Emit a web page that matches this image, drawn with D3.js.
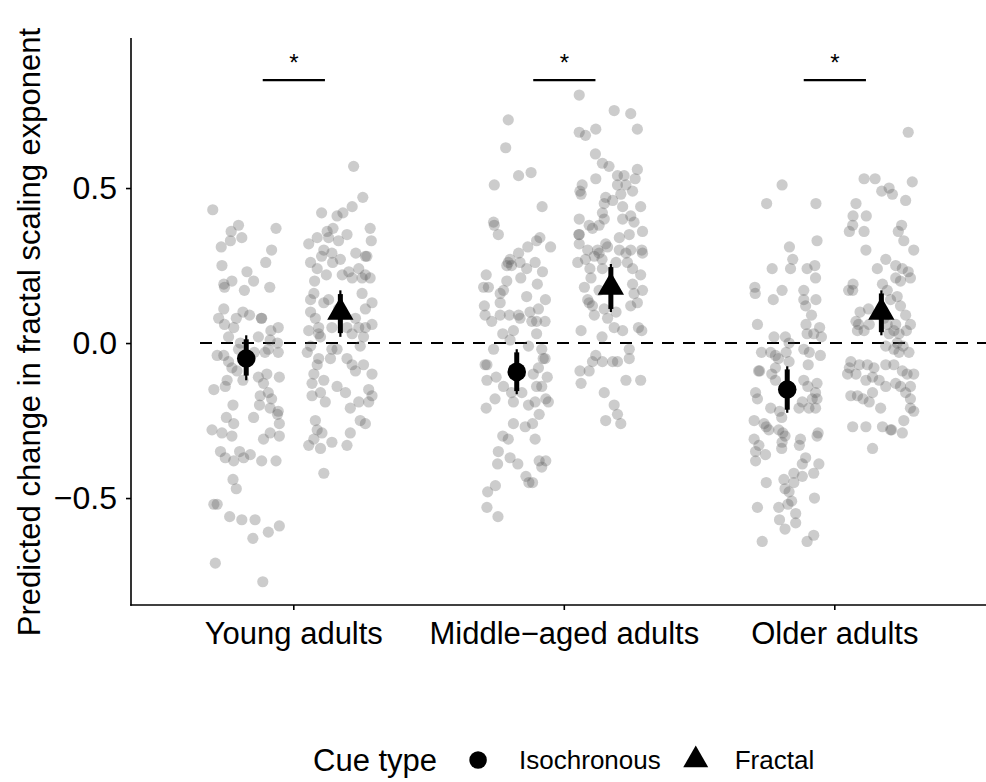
<!DOCTYPE html>
<html>
<head>
<meta charset="utf-8">
<script src="https://cdn.jsdelivr.net/npm/d3@7"></script>
<style>
  body { margin: 0; background: #fff; }
  svg { display: block; font-family: "Liberation Sans", Arial, Helvetica, sans-serif; }
</style>
</head>
<body>
<svg id="chart" width="986" height="782"></svg>
<script>
// Age groups on the x axis and the two cue types
var groups = ["Young adults", "Middle\u2212aged adults", "Older adults"];
var cues = ["Isochronous", "Fractal"];
var yTicks = [-0.5, 0.0, 0.5];

// Individual predictions: [jitter (-1..1), value]
var youngIso = [[-0.91,0.43],[-0.21,0.38],[-0.41,0.36],[0.81,0.37],[-0.12,0.34],[-0.68,0.31],[-0.43,0.33],[0.69,0.30],[0.53,0.26],[-0.66,0.25],[0.02,0.23],[-0.39,0.20],[0.20,0.20],[-0.61,0.19],[-0.05,0.17],[0.64,0.18],[-0.59,0.18],[-0.61,0.11],[-0.75,0.08],[-0.09,0.10],[-0.27,0.08],[0.09,0.09],[0.41,0.08],[0.42,0.08],[-0.59,0.06],[-0.34,0.05],[0.87,0.05],[0.67,0.04],[-0.48,0.02],[-0.16,0.00],[0.33,0.02],[0.65,0.01],[0.85,0.00],[-0.21,-0.02],[0.60,-0.02],[-0.79,-0.04],[-0.61,-0.04],[0.87,-0.03],[0.22,-0.03],[0.51,-0.03],[-0.39,-0.08],[-0.48,-0.06],[-0.25,-0.09],[0.33,-0.11],[0.56,-0.10],[0.90,-0.11],[-0.52,-0.12],[-0.88,-0.15],[-0.57,-0.14],[-0.09,-0.12],[0.47,-0.13],[0.60,-0.16],[0.38,-0.17],[0.69,-0.18],[-0.36,-0.20],[0.36,-0.20],[0.65,-0.21],[0.87,-0.22],[0.85,-0.23],[-0.54,-0.24],[0.20,-0.24],[-0.34,-0.26],[0.90,-0.26],[-0.93,-0.28],[-0.66,-0.29],[-0.39,-0.30],[0.65,-0.29],[0.47,-0.31],[0.90,-0.30],[-0.70,-0.35],[-0.18,-0.35],[-0.57,-0.37],[-0.34,-0.38],[-0.07,-0.37],[0.11,-0.36],[0.42,-0.38],[0.81,-0.38],[-0.36,-0.44],[-0.27,-0.47],[-0.88,-0.52],[-0.79,-0.52],[-0.45,-0.56],[-0.12,-0.57],[0.24,-0.57],[0.90,-0.59],[0.60,-0.61],[0.18,-0.63],[-0.84,-0.71],[0.45,-0.77]];
var youngFrac = [[0.36,0.57],[0.61,0.47],[0.32,0.44],[-0.51,0.42],[-0.09,0.41],[0.07,0.42],[-0.20,0.37],[0.81,0.37],[-0.36,0.36],[-0.63,0.34],[0.18,0.35],[0.84,0.33],[-0.86,0.32],[-0.32,0.34],[-0.05,0.33],[-0.45,0.30],[-0.51,0.28],[-0.23,0.29],[0.42,0.29],[0.68,0.28],[0.72,0.28],[0.00,0.27],[-0.81,0.26],[-0.63,0.24],[-0.21,0.26],[0.50,0.24],[0.23,0.23],[0.05,0.22],[-0.38,0.22],[0.68,0.22],[0.81,0.21],[-0.70,0.20],[0.32,0.21],[0.59,0.21],[-0.72,0.16],[0.59,0.16],[-0.32,0.14],[-0.81,0.14],[0.86,0.13],[-0.45,0.13],[0.68,0.11],[-0.81,0.10],[-0.05,0.11],[0.41,0.08],[-0.68,0.08],[-0.59,0.05],[-0.23,0.05],[0.86,0.06],[-0.86,0.04],[0.18,0.05],[0.50,0.05],[0.68,0.05],[-0.54,0.02],[-0.59,0.03],[0.32,0.03],[0.63,0.02],[-0.81,-0.01],[-0.23,-0.02],[-0.09,-0.02],[0.54,-0.01],[-0.90,-0.03],[-0.59,-0.05],[-0.27,-0.05],[0.18,-0.05],[-0.63,-0.07],[0.32,-0.07],[0.63,-0.07],[0.41,-0.09],[0.86,-0.10],[-0.72,-0.10],[-0.77,-0.13],[-0.45,-0.12],[-0.09,-0.14],[0.14,-0.16],[0.77,-0.15],[0.86,-0.17],[-0.54,-0.16],[-0.77,-0.17],[-0.41,-0.19],[0.50,-0.19],[0.27,-0.21],[0.77,-0.19],[-0.68,-0.25],[0.54,-0.25],[0.68,-0.26],[-0.63,-0.28],[-0.50,-0.29],[0.27,-0.29],[-0.86,-0.33],[-0.72,-0.31],[-0.23,-0.32],[0.18,-0.33],[-0.54,-0.34],[-0.45,-0.42]];
var middleIso = [[-0.23,0.72],[-0.30,0.63],[0.05,0.54],[0.39,0.55],[-0.61,0.51],[0.69,0.44],[-0.63,0.39],[-0.61,0.38],[-0.50,0.35],[0.63,0.34],[0.54,0.33],[0.30,0.31],[0.92,0.31],[0.05,0.29],[-0.18,0.27],[-0.23,0.26],[0.09,0.26],[0.50,0.26],[-0.27,0.25],[-0.14,0.25],[0.27,0.24],[0.11,0.21],[0.70,0.23],[-0.83,0.22],[-0.90,0.18],[-0.77,0.18],[-0.27,0.20],[0.56,0.19],[-0.36,0.17],[-0.45,0.16],[0.27,0.15],[0.78,0.14],[-0.45,0.13],[-0.88,0.12],[-0.86,0.09],[-0.45,0.09],[-0.20,0.09],[0.05,0.09],[0.09,0.08],[0.36,0.10],[0.59,0.11],[0.77,0.07],[-0.68,0.07],[0.41,0.07],[0.54,0.07],[-0.38,0.03],[-0.09,0.04],[0.54,0.03],[-0.18,0.01],[0.32,-0.01],[0.68,-0.02],[-0.63,-0.02],[0.77,-0.05],[-0.81,-0.07],[-0.86,-0.07],[0.72,-0.05],[0.59,-0.08],[-0.56,-0.11],[-0.81,-0.12],[0.45,-0.10],[0.83,-0.11],[-0.36,-0.14],[0.54,-0.14],[0.68,-0.14],[-0.14,-0.16],[0.14,-0.16],[-0.59,-0.18],[0.32,-0.20],[0.50,-0.19],[0.79,-0.18],[0.86,-0.19],[-0.83,-0.21],[-0.09,-0.19],[0.61,-0.23],[-0.09,-0.26],[0.23,-0.27],[0.43,-0.26],[-0.38,-0.30],[-0.23,-0.31],[0.50,-0.31],[-0.50,-0.35],[-0.18,-0.37],[0.03,-0.39],[-0.52,-0.39],[0.61,-0.38],[0.68,-0.40],[0.79,-0.38],[0.25,-0.43],[0.33,-0.45],[0.43,-0.45],[-0.58,-0.46],[-0.79,-0.48],[-0.81,-0.53],[-0.51,-0.56]];
var middleFrac = [[-0.86,0.80],[0.09,0.75],[0.54,0.74],[-0.86,0.68],[-0.69,0.67],[-0.41,0.69],[0.72,0.69],[-0.42,0.61],[-0.23,0.58],[-0.05,0.57],[0.18,0.54],[0.36,0.54],[0.72,0.56],[-0.78,0.51],[-0.41,0.53],[0.66,0.53],[-0.84,0.49],[-0.81,0.48],[0.18,0.51],[0.41,0.51],[0.27,0.48],[0.59,0.49],[-0.14,0.47],[0.05,0.46],[-0.18,0.45],[0.81,0.44],[0.32,0.44],[-0.86,0.40],[-0.59,0.38],[-0.23,0.42],[-0.32,0.38],[-0.18,0.40],[0.54,0.41],[0.63,0.39],[-0.50,0.37],[0.32,0.40],[-0.87,0.35],[-0.86,0.35],[0.50,0.35],[0.86,0.36],[0.23,0.34],[-0.86,0.32],[-0.63,0.30],[-0.36,0.30],[-0.45,0.28],[-0.32,0.29],[-0.14,0.32],[-0.09,0.31],[0.23,0.30],[0.41,0.29],[0.54,0.30],[0.84,0.30],[0.86,0.29],[-0.90,0.26],[-0.69,0.27],[-0.24,0.27],[0.14,0.26],[0.45,0.26],[0.59,0.24],[-0.57,0.24],[-0.23,0.24],[0.81,0.22],[-0.54,0.21],[0.59,0.19],[-0.72,0.18],[0.86,0.17],[-0.32,0.17],[-0.63,0.14],[-0.59,0.13],[-0.50,0.12],[0.63,0.16],[0.72,0.13],[0.54,0.12],[-0.18,0.11],[-0.45,0.09],[0.14,0.10],[-0.09,0.08],[0.09,0.05],[0.32,0.04],[-0.81,0.04],[0.75,0.05],[0.84,0.04],[-0.24,0.02],[0.50,-0.02],[-0.41,-0.04],[-0.50,-0.06],[-0.23,-0.06],[0.05,-0.06],[0.18,-0.06],[0.50,-0.05],[-0.84,-0.09],[-0.59,-0.09],[-0.81,-0.13],[0.41,-0.12],[0.81,-0.12],[-0.18,-0.16],[0.09,-0.20],[0.18,-0.23],[-0.14,-0.25],[0.27,-0.26]];
var olderIso = [[-0.14,0.51],[-0.56,0.45],[0.78,0.45],[0.81,0.33],[0.06,0.31],[0.15,0.27],[-0.41,0.24],[0.09,0.24],[0.54,0.24],[0.75,0.25],[0.77,0.21],[-0.88,0.18],[-0.87,0.16],[-0.14,0.17],[-0.38,0.14],[0.45,0.17],[0.45,0.14],[0.50,0.12],[0.78,0.14],[0.66,0.09],[-0.81,0.06],[0.51,0.06],[0.54,0.03],[0.72,0.03],[0.88,0.05],[0.93,0.02],[-0.36,0.02],[-0.05,0.02],[0.05,0.00],[-0.45,-0.03],[-0.70,-0.03],[-0.32,-0.04],[-0.24,-0.05],[0.45,-0.02],[-0.03,-0.03],[0.60,-0.03],[0.90,-0.04],[0.05,-0.06],[-0.32,-0.08],[0.57,-0.07],[-0.78,-0.09],[-0.75,-0.09],[-0.42,-0.10],[-0.32,-0.12],[0.45,-0.12],[0.56,-0.14],[0.81,-0.13],[0.77,-0.16],[0.68,-0.18],[0.81,-0.18],[-0.86,-0.16],[-0.81,-0.18],[-0.45,-0.21],[-0.21,-0.22],[0.41,-0.19],[0.59,-0.21],[0.77,-0.21],[0.32,-0.21],[-0.90,-0.25],[-0.63,-0.26],[-0.57,-0.27],[-0.50,-0.28],[-0.15,-0.24],[-0.23,-0.28],[-0.12,-0.29],[-0.06,-0.30],[0.84,-0.29],[0.81,-0.30],[-0.90,-0.31],[-0.77,-0.33],[-0.86,-0.35],[-0.59,-0.36],[-0.86,-0.38],[-0.14,-0.32],[-0.15,-0.34],[0.36,-0.31],[0.33,-0.33],[0.50,-0.37],[0.41,-0.39],[0.86,-0.39],[0.72,-0.42],[-0.57,-0.45],[0.18,-0.42],[0.41,-0.43],[-0.09,-0.44],[0.18,-0.45],[-0.06,-0.47],[0.05,-0.48],[0.12,-0.51],[0.02,-0.52],[0.74,-0.50],[-0.81,-0.53],[-0.23,-0.53],[0.23,-0.55],[-0.21,-0.57],[0.23,-0.58],[-0.06,-0.60],[-0.68,-0.64],[0.54,-0.64],[0.72,-0.62]];
var olderFrac = [[0.73,0.68],[-0.47,0.53],[-0.17,0.53],[0.84,0.52],[0.01,0.49],[0.21,0.50],[0.30,0.48],[0.66,0.46],[-0.69,0.45],[-0.77,0.41],[-0.41,0.41],[-0.78,0.38],[-0.87,0.36],[-0.47,0.36],[0.55,0.38],[0.46,0.36],[0.61,0.33],[0.88,0.30],[-0.42,0.30],[0.12,0.27],[0.39,0.25],[-0.11,0.24],[0.57,0.24],[0.73,0.23],[0.79,0.21],[0.39,0.21],[0.52,0.20],[-0.77,0.19],[-0.89,0.17],[-0.78,0.17],[0.03,0.19],[0.16,0.17],[0.25,0.14],[0.43,0.15],[0.52,0.12],[-0.58,0.10],[-0.35,0.11],[0.66,0.09],[-0.69,0.07],[-0.62,0.06],[0.07,0.08],[0.16,0.06],[-0.33,0.06],[-0.65,0.04],[-0.47,0.04],[0.39,0.06],[0.79,0.06],[0.34,0.04],[0.48,0.03],[0.21,0.03],[0.68,0.04],[0.12,-0.01],[0.43,0.00],[0.48,-0.03],[0.59,-0.01],[0.75,-0.03],[0.34,-0.02],[-0.83,-0.06],[-0.87,-0.08],[-0.60,-0.07],[-0.38,-0.07],[-0.20,-0.08],[0.12,-0.07],[0.34,-0.07],[0.57,-0.09],[0.70,-0.10],[0.88,-0.10],[-0.92,-0.10],[-0.69,-0.10],[-0.42,-0.12],[-0.24,-0.11],[-0.06,-0.12],[0.12,-0.14],[0.52,-0.14],[0.66,-0.16],[0.39,-0.13],[0.79,-0.14],[-0.83,-0.17],[-0.65,-0.17],[-0.50,-0.18],[-0.24,-0.16],[-0.33,-0.19],[0.79,-0.18],[0.79,-0.21],[-0.02,-0.21],[0.88,-0.22],[0.61,-0.25],[-0.78,-0.27],[-0.42,-0.27],[0.03,-0.27],[0.25,-0.28],[0.28,-0.28],[0.57,-0.29],[-0.24,-0.34]];

var pointSets = [
  [youngIso, youngFrac],
  [middleIso, middleFrac],
  [olderIso, olderFrac]
];

// Model estimates: mean, thin interval and thick interval per group
var isoMean   = [-0.05, -0.093, -0.15];
var isoLo     = [-0.12, -0.165, -0.225];
var isoHi     = [0.025, -0.02, -0.075];
var isoLoIn   = [-0.105, -0.155, -0.215];
var isoHiIn   = [0.012, -0.03, -0.085];
var fracMean  = [0.10, 0.18, 0.10];
var fracLo    = [0.02, 0.10, 0.025];
var fracHi    = [0.17, 0.255, 0.17];
var fracLoIn  = [0.032, 0.11, 0.035];
var fracHiIn  = [0.158, 0.245, 0.16];

// significance bracket height and label per group
var sigY = [0.848, 0.848, 0.848];
var sigLabel = ["*", "*", "*"];

var svg = d3.select("#chart");

// x: category index (1..3) with ggplot-style 0.6 expansion
var x = d3.scaleLinear().domain([0.4, 3.6]).range([131, 996.6]);
var y = d3.scaleLinear().domain([-0.845, 0.984]).range([605, 38]);

var dodge = 0.174;
var jitterW = 0.136;

// zero reference line
svg.append("line")
  .attr("x1", 200).attr("x2", 986)
  .attr("y1", y(0)).attr("y2", y(0))
  .attr("stroke", "#000").attr("stroke-width", 2)
  .attr("stroke-dasharray", "12,9");

// raw points
pointSets.forEach(function(pair, gi){
  pair.forEach(function(pts, ci){
    var cx = gi + 1 + (ci === 0 ? -dodge : dodge);
    svg.append("g").selectAll("circle")
      .data(pts).enter().append("circle")
      .attr("cx", function(d){ return x(cx + d[0]*jitterW); })
      .attr("cy", function(d){ return y(d[1]); })
      .attr("r", 5.6)
      .attr("fill", "#555")
      .attr("fill-opacity", 0.3);
  });
});

// point ranges
function drawRange(gi, off, mean, lo, hi, loIn, hiIn, shape){
  var px = x(gi + 1 + off);
  svg.append("line").attr("x1", px).attr("x2", px)
    .attr("y1", y(lo)).attr("y2", y(hi))
    .attr("stroke", "#000").attr("stroke-width", 2.2);
  svg.append("line").attr("x1", px).attr("x2", px)
    .attr("y1", y(loIn)).attr("y2", y(hiIn))
    .attr("stroke", "#000").attr("stroke-width", 5);
  svg.append("path")
    .attr("d", d3.symbol().type(shape === "circle" ? d3.symbolCircle : d3.symbolTriangle)
      .size(shape === "circle" ? 270 : 300)())
    .attr("transform", "translate(" + px + "," + y(mean) + ")")
    .attr("fill", "#000");
}
groups.forEach(function(g, i){
  drawRange(i, -dodge, isoMean[i], isoLo[i], isoHi[i], isoLoIn[i], isoHiIn[i], "circle");
  drawRange(i, dodge, fracMean[i], fracLo[i], fracHi[i], fracLoIn[i], fracHiIn[i], "triangle");
});

// significance brackets
groups.forEach(function(g, i){
  svg.append("line")
    .attr("x1", x(i + 1 - 0.113)).attr("x2", x(i + 1 + 0.117))
    .attr("y1", y(sigY[i])).attr("y2", y(sigY[i]))
    .attr("stroke", "#000").attr("stroke-width", 2.2);
  svg.append("text")
    .attr("x", x(i + 1 + 0.002)).attr("y", y(sigY[i]) - 9)
    .attr("text-anchor", "middle")
    .attr("font-size", 24)
    .text(sigLabel[i]);
});

// axes
var yAxis = d3.axisLeft(y).tickValues(yTicks).tickFormat(d3.format(".1f")).tickSize(5).tickPadding(9);
var gy = svg.append("g").attr("transform", "translate(131,0)").call(yAxis);
gy.select(".domain").remove();
gy.append("line").attr("x1", 0).attr("x2", 0).attr("y1", 38).attr("y2", 605.7)
  .attr("stroke", "#000").attr("stroke-width", 1.6);
gy.selectAll(".tick line").attr("stroke-width", 1.6);
gy.selectAll(".tick text").attr("font-size", 32).attr("fill", "#000")
  .text(function(d){ return d < 0 ? "\u2212" + d3.format(".1f")(-d) : d3.format(".1f")(d); });

var xAxis = d3.axisBottom(x).tickValues([1, 2, 3]).tickFormat(function(d){ return groups[d - 1]; })
  .tickSize(5).tickPadding(12);
var gx = svg.append("g").attr("transform", "translate(0,605)").call(xAxis);
gx.select(".domain").remove();
gx.append("line").attr("x1", 130.2).attr("x2", 986).attr("y1", 0).attr("y2", 0)
  .attr("stroke", "#000").attr("stroke-width", 1.6);
gx.selectAll(".tick line").attr("stroke-width", 1.6);
gx.selectAll(".tick text").attr("font-size", 31).attr("fill", "#000");

// y title
svg.append("text")
  .attr("transform", "translate(40,332) rotate(-90)")
  .attr("text-anchor", "middle")
  .attr("font-size", 31)
  .text("Predicted change in fractal scaling exponent");

// legend
var leg = svg.append("g").attr("transform", "translate(0,760)");
var lx = 313;
var title = leg.append("text").attr("x", lx).attr("y", 11).attr("font-size", 31).text("Cue type");
lx += title.node().getComputedTextLength() + 41;
leg.append("path").attr("d", d3.symbol().type(d3.symbolCircle).size(240)())
  .attr("transform", "translate(" + lx + ",0)");
lx += 41;
var l1 = leg.append("text").attr("x", lx).attr("y", 9).attr("font-size", 26).text(cues[0]);
lx += l1.node().getComputedTextLength() + 35;
leg.append("path").attr("d", d3.symbol().type(d3.symbolTriangle).size(270)())
  .attr("transform", "translate(" + lx + ",0)");
lx += 39;
leg.append("text").attr("x", lx).attr("y", 9).attr("font-size", 26).text(cues[1]);
</script>
</body>
</html>
